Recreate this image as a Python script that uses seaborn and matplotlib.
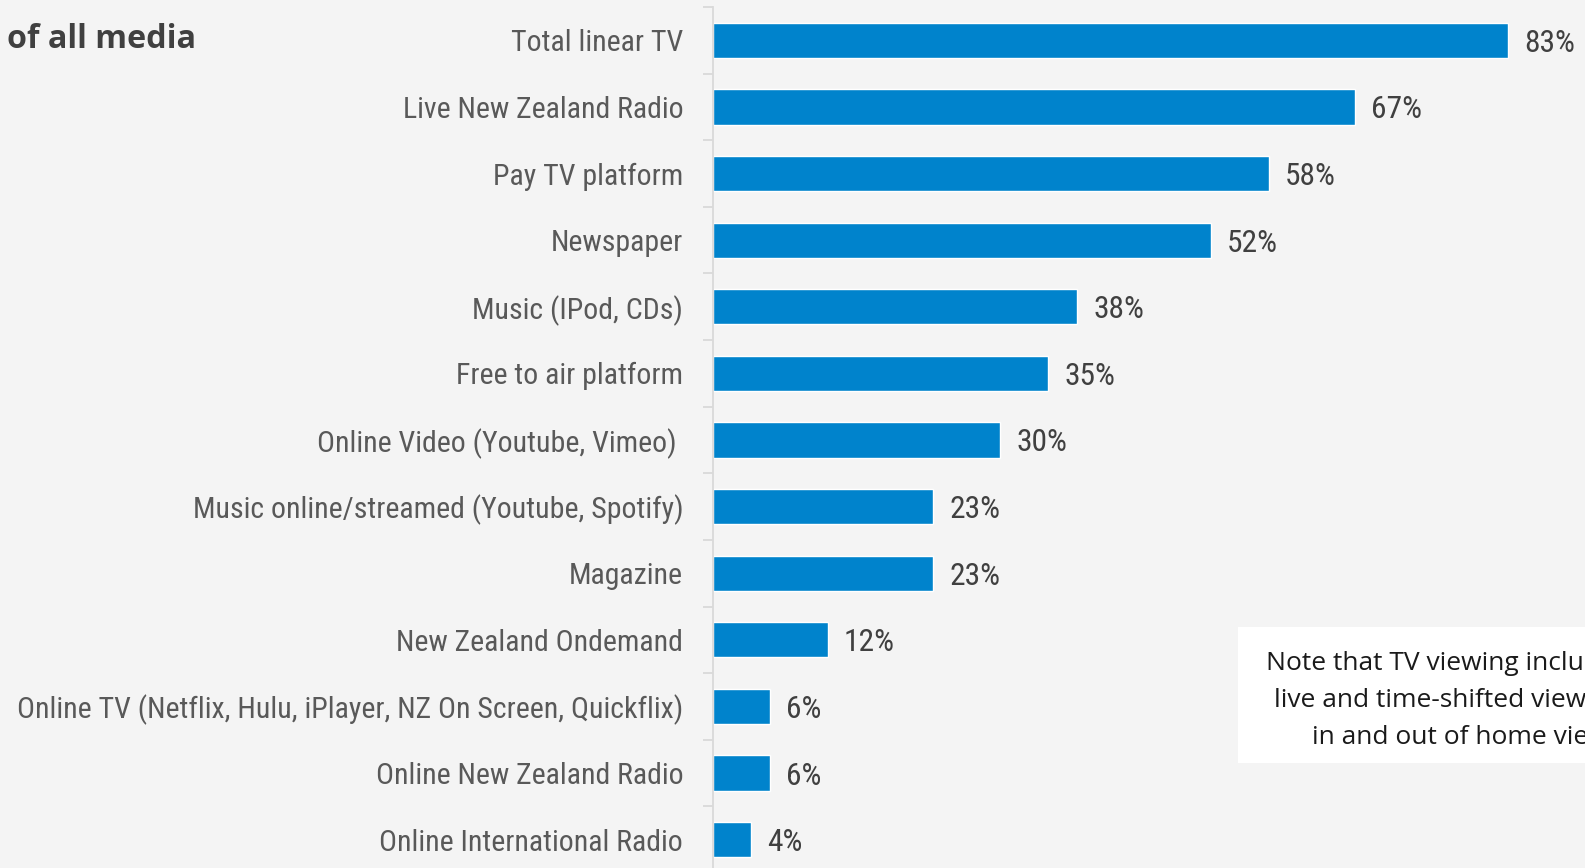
import matplotlib
matplotlib.use("Agg")
import matplotlib.pyplot as plt
from matplotlib import font_manager
from matplotlib.ticker import FixedLocator
import seaborn as sns
import pandas as pd

categories = [
    "Total linear TV",
    "Live New Zealand Radio",
    "Pay TV platform",
    "Newspaper",
    "Music (IPod, CDs)",
    "Free to air platform",
    "Online Video (Youtube, Vimeo) ",
    "Music online/streamed (Youtube, Spotify)",
    "Magazine",
    "New Zealand Ondemand",
    "Online TV (Netflix, Hulu, iPlayer, NZ On Screen, Quickflix)",
    "Online New Zealand Radio",
    "Online International Radio",
]
values = [83, 67, 58, 52, 38, 35, 30, 23, 23, 12, 6, 6, 4]
value_labels = [f"{v}%" for v in values]

title_text = "of all media"
note_lines = [
    "Note that TV viewing includes both",
    "live and time-shifted viewing, and",
    "in and out of home viewing",
]

# pick a narrow sans for the category and value labels
fonts = font_manager.fontManager.ttflist
names = {f.name for f in fonts}
label_font = {"family": "Roboto", "stretch": "normal", "size": 19.0}
for cand in ["Roboto Condensed", "Liberation Sans Narrow", "Open Sans Condensed",
             "Noto Sans Condensed", "Arial Narrow"]:
    if cand in names:
        label_font = {"family": cand, "stretch": "normal", "size": 21.5}
        break
else:
    cond = [f for f in fonts if str(f.stretch) in ("condensed", "semi-condensed", "extra-condensed", "75", "87")
            or (isinstance(f.stretch, int) and f.stretch < 500)]
    if cond:
        pick = sorted(cond, key=lambda f: (f.name not in ("Roboto", "Noto Sans", "Open Sans", "DejaVu Sans")))[0]
        label_font = {"family": pick.name, "stretch": pick.stretch, "size": 21.5}

sns.set_theme(style="white")
plt.rcParams["font.family"] = [label_font["family"], "DejaVu Sans"]
plt.rcParams["font.stretch"] = label_font["stretch"]

BG = "#f4f4f4"
BAR = "#0083cc"
GRID = "#d9d9d9"

fig = plt.figure(figsize=(15.85, 8.68), dpi=100, facecolor=BG)
ax = fig.add_axes([713 / 1585, -5 / 868, 1 - 713 / 1585, 866 / 868])
ax.set_facecolor(BG)

df = pd.DataFrame({"category": categories, "value": values})
sns.barplot(data=df, x="value", y="category", orient="h", color=BAR,
            width=0.53, saturation=1, ax=ax)

ax.set_xlim(0, 872 / 9.58)
ax.set_ylim(len(categories) - 0.5, -0.5)
ax.set_xlabel("")
ax.set_ylabel("")
ax.set_xticks([])

for s in ["top", "right", "bottom"]:
    ax.spines[s].set_visible(False)
ax.spines["left"].set_color(GRID)
ax.spines["left"].set_linewidth(1.3)

ax.tick_params(axis="y", which="major", length=0, pad=21.5,
               labelsize=label_font["size"], labelcolor="#595959")
ax.yaxis.set_minor_locator(FixedLocator([i - 0.5 for i in range(len(categories) + 1)]))
ax.tick_params(axis="y", which="minor", length=7, width=1.3, color=GRID, left=True)

for i, (v, lab) in enumerate(zip(values, value_labels)):
    ax.annotate(lab, xy=(v, i), xytext=(11.5, 0), textcoords="offset points",
                ha="left", va="center_baseline", fontsize=label_font["size"] + 1.2,
                color="#404040")

fig.text(7 / 1585, 1 - 39 / 868, title_text, ha="left", va="center",
         fontsize=23.2, fontweight="bold", color="#404040",
         family=["Open Sans", "DejaVu Sans"], fontstretch="normal")

# white note panel at the right edge
fig.patches.append(plt.Rectangle((1238 / 1585, 1 - 763 / 868), 400 / 1585, 136 / 868,
                                 transform=fig.transFigure, facecolor="white",
                                 edgecolor="none", zorder=2))
note_kw = dict(fontsize=19, color="#1a1a1a", family=["Open Sans", "DejaVu Sans"],
               fontstretch="normal", zorder=3)
renderer = fig.canvas.get_renderer()
probe = fig.text(0, 0, note_lines[0], **note_kw)
w0 = probe.get_window_extent(renderer).width
probe.remove()
note_cx = 1266 + w0 / 2
for k, line in enumerate(note_lines):
    fig.text(note_cx / 1585, 1 - (663 + 37.5 * k) / 868, line, ha="center", va="center",
             **note_kw)

fig.savefig("out.png", dpi=100, facecolor=BG)
